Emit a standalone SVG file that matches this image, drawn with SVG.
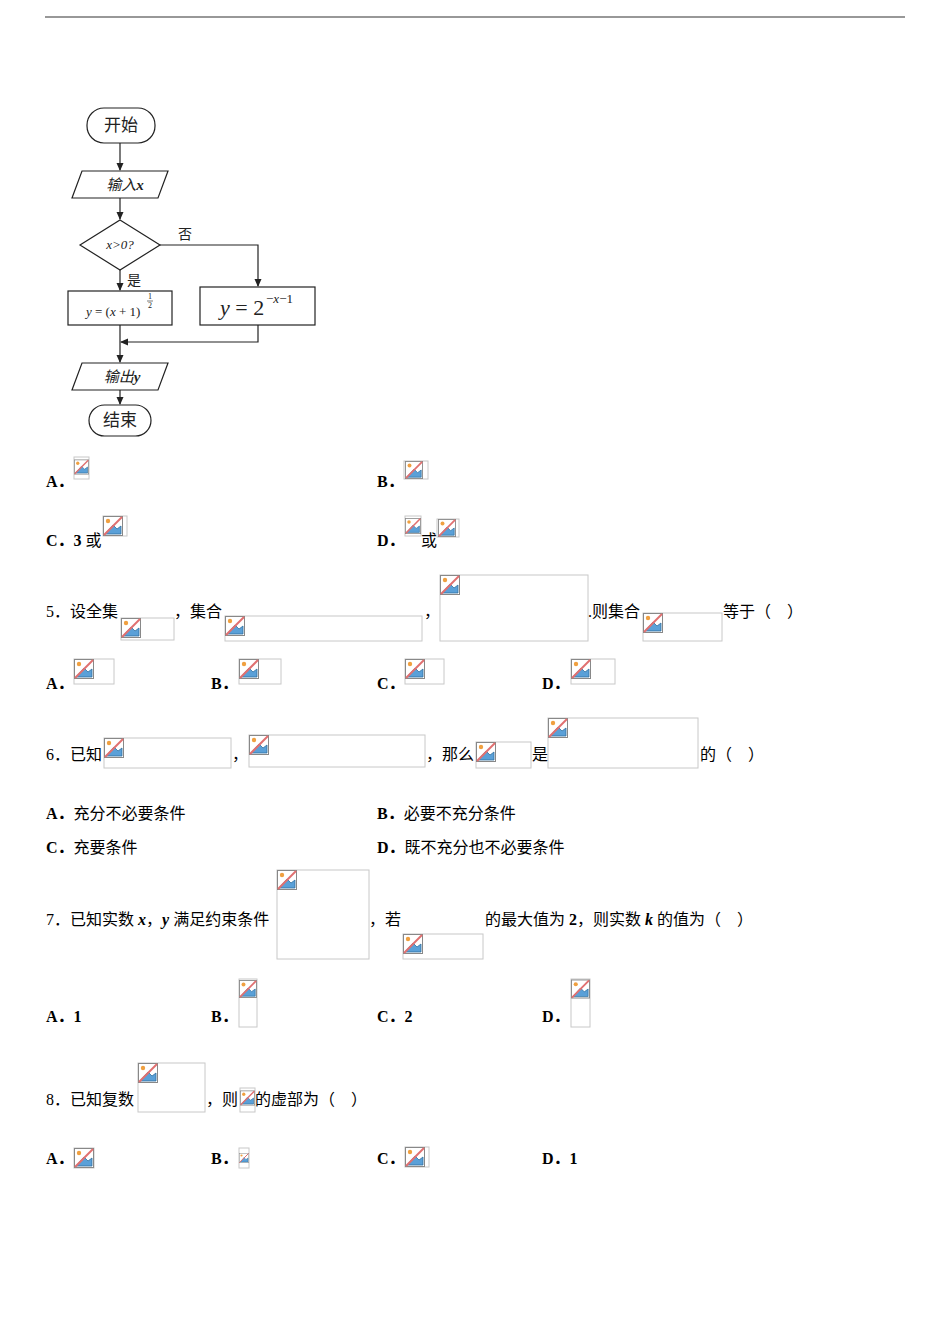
<svg xmlns="http://www.w3.org/2000/svg" xmlns:xlink="http://www.w3.org/1999/xlink" width="950" height="1344" viewBox="0 0 950 1344">
<style>
.t{font-family:"Liberation Serif","Noto Sans CJK SC",serif;font-size:16px;fill:#000}
.b{font-weight:bold}
.f{fill:#fff;stroke:#222;stroke-width:1.2}
.c{stroke:#222;stroke-width:1.2;fill:none}
.bx{fill:none;stroke:#c8c8c8;stroke-width:1}
.fl{font-family:"Liberation Serif","Noto Sans CJK SC",serif;fill:#222}
</style>
<defs>
<marker id="ar" markerWidth="8" markerHeight="8" refX="7" refY="4" orient="auto" markerUnits="userSpaceOnUse"><path d="M0,0.5 L8,4 L0,7.5z" fill="#222"/></marker>
<symbol id="ic" viewBox="0 0 20 20" width="20" height="20" overflow="hidden">
<rect x="0.5" y="0.5" width="19" height="19" fill="#fff" stroke="#888"/>
<circle cx="5" cy="5" r="2.2" fill="#f0a040"/>
<path d="M2,18 L10,9 L14,13 L18,10 L18,18z" fill="#5aa0d8" stroke="#3070a0" stroke-width="0.8"/>
<path d="M1,19 L19,1" stroke="#e07070" stroke-width="2"/>
</symbol>
</defs>
<line x1="45" y1="17" x2="905" y2="17" stroke="#333" stroke-width="1.2"/>

<g id="flowchart">
<g id="start"><rect class="f" x="87" y="108" width="68" height="35" rx="17"/><text class="fl" x="121" y="131" font-size="17" text-anchor="middle">开始</text></g>
<g id="input"><path class="f" d="M82,171 L168,171 L158,198 L72,198z"/><text class="fl" x="125" y="190" font-size="15" font-style="italic" text-anchor="middle">输入<tspan font-weight="bold">x</tspan></text></g>
<g id="cond"><path class="f" d="M120,220 L160,245 L120,270 L80,245z"/><text class="fl" x="120" y="249" font-size="13" font-style="italic" text-anchor="middle">x&gt;0?</text></g>
<g id="left"><rect class="f" x="68" y="291" width="104" height="34"/><text class="fl" x="86" y="316" font-size="13" font-style="italic">y <tspan font-style="normal">= (</tspan>x<tspan font-style="normal"> + 1)</tspan></text><text class="fl" x="150" y="299" font-size="8" text-anchor="middle">1</text><line x1="147" y1="301" x2="153" y2="301" stroke="#222" stroke-width="0.6"/><text class="fl" x="150" y="308" font-size="8" text-anchor="middle">2</text></g>
<g id="right"><rect class="f" x="200" y="287" width="115" height="38"/><text class="fl" x="220" y="315" font-size="22"><tspan font-style="italic">y</tspan> = 2</text><text class="fl" x="266" y="303" font-size="13">−<tspan font-style="italic">x</tspan>−1</text></g>
<g id="output"><path class="f" d="M82,363 L168,363 L158,390 L72,390z"/><text class="fl" x="122" y="382" font-size="15" font-style="italic" text-anchor="middle">输出<tspan font-weight="bold">y</tspan></text></g>
<g id="end"><rect class="f" x="89" y="405" width="62" height="31" rx="15.5"/><text class="fl" x="120" y="426" font-size="17" text-anchor="middle">结束</text></g>
</g>
<g id="connectors">
<line class="c" x1="120" y1="143" x2="120" y2="170" marker-end="url(#ar)"/>
<line class="c" x1="120" y1="198" x2="120" y2="219" marker-end="url(#ar)"/>
<path class="c" d="M160,245 L258,245 L258,286" marker-end="url(#ar)"/>
<line class="c" x1="120" y1="270" x2="120" y2="290" marker-end="url(#ar)"/>
<path class="c" d="M258,325 L258,342 L121,342" marker-end="url(#ar)"/>
<line class="c" x1="120" y1="325" x2="120" y2="362" marker-end="url(#ar)"/>
<line class="c" x1="120" y1="390" x2="120" y2="404" marker-end="url(#ar)"/>
<text class="fl" x="178" y="239" font-size="14">否</text>
<text class="fl" x="127" y="285" font-size="14">是</text>
</g>

<g id="placeholders">
<rect class="bx" x="74" y="457" width="15" height="22"/><use xlink:href="#ic" x="74" y="457" width="15" height="20"/>
<rect class="bx" x="404" y="461" width="24" height="18"/><use xlink:href="#ic" x="404" y="461" width="20" height="18"/>
<rect class="bx" x="103" y="516" width="24" height="20"/><use xlink:href="#ic" x="103" y="516"/>
<rect class="bx" x="405" y="516" width="16" height="20"/><use xlink:href="#ic" x="405" y="516" width="16" height="20"/>
<rect class="bx" x="437" y="519" width="22" height="18"/><use xlink:href="#ic" x="437" y="519" width="20" height="18"/>
<rect class="bx" x="121" y="618" width="53" height="22"/><use xlink:href="#ic" x="121" y="618"/>
<rect class="bx" x="225" y="616" width="197" height="25"/><use xlink:href="#ic" x="225" y="616"/>
<rect class="bx" x="440" y="575" width="148" height="66"/><use xlink:href="#ic" x="440" y="575"/>
<rect class="bx" x="643" y="613" width="79" height="28"/><use xlink:href="#ic" x="643" y="613"/>
<rect class="bx" x="74" y="659" width="40" height="25"/><use xlink:href="#ic" x="74" y="659"/>
<rect class="bx" x="239" y="659" width="42" height="25"/><use xlink:href="#ic" x="239" y="659"/>
<rect class="bx" x="405" y="659" width="39" height="25"/><use xlink:href="#ic" x="405" y="659"/>
<rect class="bx" x="571" y="659" width="44" height="25"/><use xlink:href="#ic" x="571" y="659"/>
<rect class="bx" x="104" y="738" width="127" height="30"/><use xlink:href="#ic" x="104" y="738"/>
<rect class="bx" x="249" y="735" width="176" height="32"/><use xlink:href="#ic" x="249" y="735"/>
<rect class="bx" x="476" y="742" width="55" height="26"/><use xlink:href="#ic" x="476" y="742"/>
<rect class="bx" x="548" y="718" width="150" height="50"/><use xlink:href="#ic" x="548" y="718"/>
<rect class="bx" x="277" y="870" width="92" height="89"/><use xlink:href="#ic" x="277" y="870"/>
<rect class="bx" x="403" y="934" width="80" height="25"/><use xlink:href="#ic" x="403" y="934"/>
<rect class="bx" x="239" y="979" width="18" height="48"/><use xlink:href="#ic" x="239" y="979" width="18" height="20"/>
<rect class="bx" x="571" y="979" width="19" height="48"/><use xlink:href="#ic" x="571" y="979" width="19" height="20"/>
<rect class="bx" x="138" y="1063" width="67" height="49"/><use xlink:href="#ic" x="138" y="1063"/>
<rect class="bx" x="240" y="1088" width="15" height="24"/><use xlink:href="#ic" x="240" y="1088" width="15" height="20"/>
<rect class="bx" x="74" y="1148" width="20" height="20"/><use xlink:href="#ic" x="74" y="1148"/>
<rect class="bx" x="239" y="1148" width="10" height="20"/><use xlink:href="#ic" x="239" y="1148" width="10" height="20"/>
<rect class="bx" x="405" y="1147" width="24" height="20"/><use xlink:href="#ic" x="405" y="1147"/>
</g>

<g id="text" class="t" xml:space="preserve">
<text x="46" y="487"><tspan class="b">A．</tspan></text><text x="377" y="487"><tspan class="b">B．</tspan></text>
<text x="46" y="546"><tspan class="b">C．3 </tspan>或</text><text x="377" y="546"><tspan class="b">D．</tspan></text><text x="421" y="546">或</text>
<text x="46" y="617">5．设全集</text><text x="174" y="617">，集合</text><text x="424" y="617">，</text><text x="588" y="617">.则集合</text><text x="723" y="617">等于（&#160;&#160;&#160;&#160;）</text>
<text x="46" y="689" class="b">A．</text><text x="211" y="689" class="b">B．</text><text x="377" y="689" class="b">C．</text><text x="542" y="689" class="b">D．</text>
<text x="46" y="760">6．已知</text><text x="232" y="760">，</text><text x="426" y="760">，那么</text><text x="532" y="760">是</text><text x="700" y="760">的（&#160;&#160;&#160;&#160;）</text>
<text x="46" y="819"><tspan class="b">A．</tspan>充分不必要条件</text><text x="377" y="819"><tspan class="b">B．</tspan>必要不充分条件</text>
<text x="46" y="853"><tspan class="b">C．</tspan>充要条件</text><text x="377" y="853"><tspan class="b">D．</tspan>既不充分也不必要条件</text>
<text x="46" y="925">7．已知实数 <tspan class="b" font-style="italic">x</tspan>，<tspan class="b" font-style="italic">y</tspan> 满足约束条件</text><text x="369" y="925">，若</text><text x="485" y="925">的最大值为 <tspan class="b">2</tspan>，则实数 <tspan class="b" font-style="italic">k</tspan> 的值为（&#160;&#160;&#160;&#160;）</text>
<text x="46" y="1022" class="b">A．1</text><text x="211" y="1022" class="b">B．</text><text x="377" y="1022" class="b">C．2</text><text x="542" y="1022" class="b">D．</text>
<text x="46" y="1105">8．已知复数</text><text x="206" y="1105">，则</text><text x="255" y="1105">的虚部为（&#160;&#160;&#160;&#160;）</text>
<text x="46" y="1164" class="b">A．</text><text x="211" y="1164" class="b">B．</text><text x="377" y="1164" class="b">C．</text><text x="542" y="1164" class="b">D．1</text>
</g>
</svg>
